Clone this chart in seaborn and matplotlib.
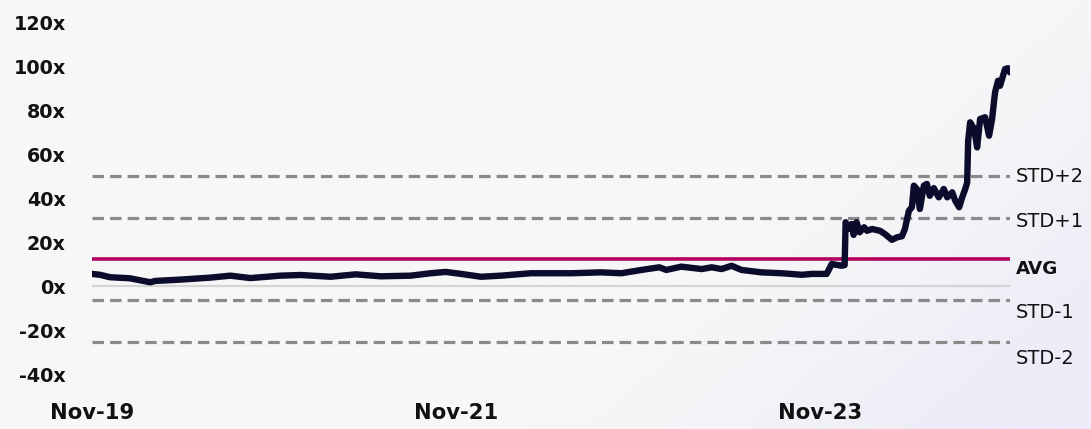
import matplotlib
matplotlib.use("Agg")
import matplotlib.pyplot as plt
import numpy as np
import pandas as pd
import seaborn as sns

# Valuation multiple history (x)
dates = [
    "2019-11-01", "2019-11-17", "2019-12-07", "2020-01-16", "2020-02-26", "2020-03-07",
    "2020-04-26", "2020-06-25", "2020-08-05", "2020-09-14", "2020-11-13", "2020-12-24",
    "2021-02-22", "2021-04-13", "2021-06-03", "2021-08-02", "2021-09-11", "2021-10-11",
    "2021-11-11", "2021-12-21", "2022-01-30", "2022-03-31", "2022-06-20", "2022-08-19",
    "2022-09-29", "2022-11-08", "2022-12-14", "2022-12-28", "2023-01-27", "2023-03-09",
    "2023-03-29", "2023-04-18", "2023-05-08", "2023-05-28", "2023-07-07", "2023-08-17",
    "2023-09-26", "2023-10-16", "2023-11-15", "2023-11-25", "2023-12-15", "2023-12-21",
    "2023-12-23", "2023-12-29", "2024-01-04", "2024-01-08", "2024-01-14", "2024-01-20",
    "2024-01-29", "2024-02-04", "2024-02-14", "2024-03-01", "2024-03-11", "2024-03-25",
    "2024-04-04", "2024-04-14", "2024-04-20", "2024-04-28", "2024-05-04", "2024-05-08",
    "2024-05-14", "2024-05-20", "2024-05-28", "2024-06-03", "2024-06-09", "2024-06-17",
    "2024-06-27", "2024-07-07", "2024-07-14", "2024-07-24", "2024-07-30", "2024-08-07",
    "2024-08-13", "2024-08-19", "2024-08-23", "2024-08-25", "2024-08-29", "2024-09-06",
    "2024-09-12", "2024-09-18", "2024-09-28", "2024-10-06", "2024-10-12", "2024-10-18",
    "2024-10-24", "2024-10-28", "2024-11-03", "2024-11-07", "2024-11-13", "2024-11-17",
]
multiples = [
    5.5, 5.1, 4.0, 3.5, 1.7, 2.3,
    2.9, 3.8, 4.7, 3.6, 4.7, 5.0,
    4.2, 5.3, 4.4, 4.7, 5.8, 6.4,
    5.5, 4.2, 4.7, 5.8, 5.8, 6.2,
    5.8, 7.3, 8.5, 7.3, 8.8, 7.7,
    8.5, 7.7, 9.2, 7.3, 6.2, 5.8,
    5.1, 5.5, 5.5, 10.0, 9.2, 9.5,
    29.0, 26.0, 28.2, 23.2, 29.0, 24.4,
    26.7, 25.1, 25.9, 25.1, 23.6, 21.0,
    22.1, 22.6, 25.9, 34.2, 35.8, 45.6,
    44.1, 35.0, 45.6, 46.4, 41.0, 44.5,
    40.3, 44.1, 40.3, 42.6, 38.8, 35.8,
    40.3, 44.0, 47.0, 66.0, 74.4, 71.4,
    63.0, 75.9, 76.7, 68.3, 75.9, 88.0,
    93.3, 91.0, 95.6, 98.6, 99.0, 97.1,
]

# Reference bands
band_names = ["STD+2", "STD+1", "AVG", "STD-1", "STD-2"]
band_values = [49.9, 31.1, 12.3, -6.5, -25.3]

y_ticks = [-40, -20, 0, 20, 40, 60, 80, 100, 120]
x_tick_dates = ["2019-11-01", "2021-11-01", "2023-11-01"]
x_tick_labels = ["Nov-19", "Nov-21", "Nov-23"]

df = pd.DataFrame({"date": pd.to_datetime(dates), "multiple": multiples})

sns.set_theme(style="white")
plt.rcParams["font.family"] = ["DejaVu Sans"]

BG = "#f7f7f7"
fig = plt.figure(figsize=(10.91, 4.29), dpi=100, facecolor=BG)

# soft lavender wash in the lower-right corner
bg_ax = fig.add_axes([0, 0, 1, 1], zorder=-10)
gy, gx = np.mgrid[0:1:200j, 0:1:400j]
wash = np.clip((gx - 0.76) * 2.4 + (0.6 - gy) * 1.1, 0, 1) ** 1.1
base = np.array([0xf7, 0xf7, 0xf7]) / 255
tint = np.array([0xed, 0xec, 0xf8]) / 255
img = base[None, None, :] * (1 - wash[..., None]) + tint[None, None, :] * wash[..., None]
bg_ax.imshow(img, origin="lower", extent=[0, 1, 0, 1], aspect="auto")
bg_ax.set_axis_off()

ax = fig.add_axes([92 / 1091, 55 / 429, (1010 - 92) / 1091, (374 - 22) / 429])
ax.set_facecolor("none")

# zero reference line
ax.axhline(0, color="#d4d4d4", lw=1.6, zorder=1)

for name, val in zip(band_names, band_values):
    if name == "AVG":
        ax.axhline(val, color="#b1005e", lw=2.6, zorder=2, solid_capstyle="butt")
    else:
        ax.axhline(val, color="#8a8a8a", lw=2.3, ls=(0, (3.6, 1.9)), zorder=2)

sns.lineplot(data=df, x="date", y="multiple", ax=ax, color="#0b0b2b",
             lw=4.6, zorder=3, solid_joinstyle="round", solid_capstyle="round")

ax.set_xlim(df["date"].min(), df["date"].max())
ax.set_ylim(-40, 120)
ax.set_yticks(y_ticks)
ax.set_yticklabels([f"{t}x" for t in y_ticks])
ax.set_xticks(pd.to_datetime(x_tick_dates))
ax.set_xticklabels(x_tick_labels)
ax.tick_params(axis="y", length=0, pad=19, labelsize=13.8)
ax.tick_params(axis="x", length=0, pad=21, labelsize=15.2)
for lab in ax.get_xticklabels() + ax.get_yticklabels():
    lab.set_fontweight("bold")
    lab.set_color("#111111")
ax.set_xlabel("")
ax.set_ylabel("")
for s in ax.spines.values():
    s.set_visible(False)

# band labels on the right
offsets = {"STD+2": 0, "STD+1": -3, "AVG": -7, "STD-1": -9, "STD-2": -12}
for name, val in zip(band_names, band_values):
    ax.annotate(name, xy=(1.0, val), xycoords=("axes fraction", "data"),
                xytext=(4, offsets[name]), textcoords="offset points",
                ha="left", va="center",
                fontsize=13.2 if name == "AVG" else 14,
                fontweight="bold" if name == "AVG" else "normal",
                color="#111111", annotation_clip=False)

fig.savefig("out.png", dpi=100, facecolor=BG)
